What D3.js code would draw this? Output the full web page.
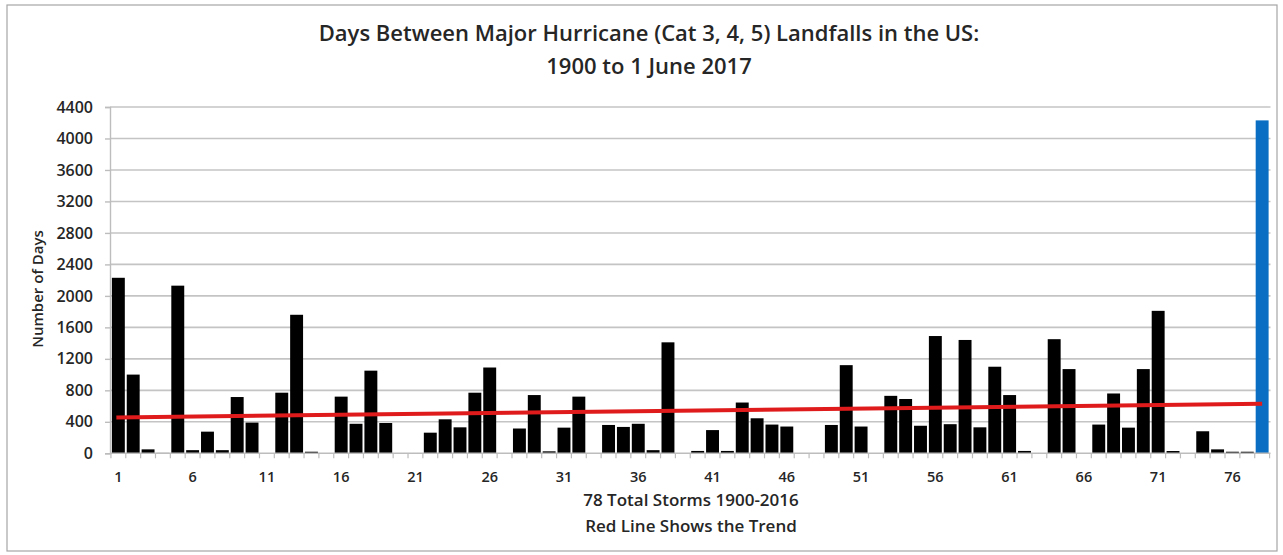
<!DOCTYPE html>
<html>
<head>
<meta charset="utf-8">
<script src="https://cdn.jsdelivr.net/npm/d3@7"></script>
<style>
  html, body { margin: 0; padding: 0; background: #fff; }
  svg { display: block; }
  text { font-family: "Open Sans", "DejaVu Sans", sans-serif; fill: #262626; }
</style>
</head>
<body>
<svg id="chart" width="1283" height="555"></svg>
<script>
// ---- data ----
const titleLines = ["Days Between Major Hurricane (Cat 3, 4, 5) Landfalls in the US:", "1900 to 1 June 2017"];
const yAxisTitle = "Number of Days";
const xAxisTitleLines = ["78 Total Storms 1900-2016", "Red Line Shows the Trend"];
const stormNumbers = d3.range(1, 79);
const daysBetween = [
  2230, 1000, 50, 5, 2130, 40, 275, 40, 715, 390,
  0, 770, 1760, 20, 0, 720, 375, 1050, 385, 0,
  0, 262, 432, 330, 770, 1090, 0, 315, 740, 25,
  326, 720, 0, 360, 335, 375, 40, 1410, 0, 30,
  295, 30, 645, 445, 365, 340, 0, 0, 360, 1120,
  340, 0, 730, 690, 350, 1490, 370, 1440, 330, 1100,
  740, 30, 0, 1450, 1070, 0, 365, 760, 326, 1070,
  1810, 29, 0, 280, 50, 20, 20, 4230
];
const currentGapIndex = 77; // last bar (days since last landfall, to 1 June 2017)
const trendStart = 455;
const trendEnd = 628;
const yTicks = d3.range(0, 4401, 400);
const xTickLabels = [1, 6, 11, 16, 21, 26, 31, 36, 41, 46, 51, 56, 61, 66, 71, 76];

// ---- layout ----
const svg = d3.select("#chart");
const plot = { left: 111, right: 1269.5, top: 107, bottom: 453.3 };

const x = d3.scaleBand().domain(stormNumbers).range([plot.left, plot.right]).paddingInner(0.13).paddingOuter(0.06);
const y = d3.scaleLinear().domain([0, 4400]).range([plot.bottom, plot.top]);

// chart border
svg.append("rect").attr("x", 7).attr("y", 5).attr("width", 1270).attr("height", 546)
  .attr("fill", "#fff").attr("stroke", "#a6a6a6").attr("stroke-width", 1.2);

// gridlines
svg.append("g").selectAll("line").data(yTicks.filter(d => d > 0)).join("line")
  .attr("x1", plot.left - 1).attr("x2", plot.right + 1)
  .attr("y1", d => y(d)).attr("y2", d => y(d))
  .attr("stroke", "#c4c4c4").attr("stroke-width", 1.6);

// y axis
const yAxis = d3.axisLeft(y).tickValues(yTicks).tickFormat(d3.format("d")).tickSize(5).tickPadding(12);
const gy = svg.append("g").attr("transform", `translate(${plot.left - 1},0)`).call(yAxis);
gy.select(".domain").attr("stroke", "#bdbdbd").attr("stroke-width", 1.4);
gy.selectAll(".tick line").attr("stroke", "#bdbdbd").attr("stroke-width", 1.4);
gy.selectAll(".tick text").attr("font-size", 16).attr("font-weight", 600)
  .style("font-family", "'Open Sans', sans-serif").attr("fill", "#262626");

// bars
svg.append("g").selectAll("rect").data(daysBetween).join("rect")
  .attr("x", (d, i) => x(stormNumbers[i]))
  .attr("width", x.bandwidth())
  .attr("y", d => y(d))
  .attr("height", d => plot.bottom - y(d))
  .attr("fill", (d, i) => i === currentGapIndex ? "#0a6fc2" : "#000");

// x axis
const xAxis = d3.axisBottom(x).tickValues(xTickLabels).tickSize(0).tickPadding(18);
const gx = svg.append("g").attr("transform", `translate(0,${plot.bottom})`).call(xAxis);
gx.select(".domain").remove();
gx.selectAll(".tick text").attr("font-size", 14.5).attr("font-weight", 600)
  .style("font-family", "'Open Sans', sans-serif").attr("fill", "#262626");
// category boundary ticks
const step = x.step();
const boundaries = d3.range(0, stormNumbers.length + 1).map(i => x(stormNumbers[0]) - x.paddingInner() * step / 2 + i * step);
svg.append("g").selectAll("line").data(boundaries).join("line")
  .attr("x1", d => d).attr("x2", d => d)
  .attr("y1", plot.bottom).attr("y2", plot.bottom + 5)
  .attr("stroke", "#bdbdbd").attr("stroke-width", 1.2);
svg.append("line").attr("x1", plot.left - 1).attr("x2", plot.right + 1)
  .attr("y1", plot.bottom).attr("y2", plot.bottom)
  .attr("stroke", "#bdbdbd").attr("stroke-width", 1.4);

// trend line
const firstC = x(stormNumbers[0]) + x.bandwidth() / 2 - 2;
const lastC = x(stormNumbers[stormNumbers.length - 1]) + x.bandwidth() / 2;
svg.append("line")
  .attr("x1", firstC).attr("y1", y(trendStart))
  .attr("x2", lastC).attr("y2", y(trendEnd))
  .attr("stroke", "#e01b1b").attr("stroke-width", 4);

// title
svg.append("g").selectAll("text").data(titleLines).join("text")
  .attr("x", 649).attr("y", (d, i) => 41 + i * 33)
  .attr("text-anchor", "middle").attr("font-size", 22).attr("font-weight", 600)
  .text(d => d);

// y axis title
svg.append("text")
  .attr("transform", "translate(43,289) rotate(-90)")
  .attr("text-anchor", "middle").attr("font-size", 15).attr("font-weight", 600)
  .text(yAxisTitle);

// x axis title
svg.append("g").selectAll("text").data(xAxisTitleLines).join("text")
  .attr("x", 691).attr("y", (d, i) => 506 + i * 26)
  .attr("text-anchor", "middle").attr("font-size", 17).attr("font-weight", 600)
  .text(d => d);
</script>
</body>
</html>
